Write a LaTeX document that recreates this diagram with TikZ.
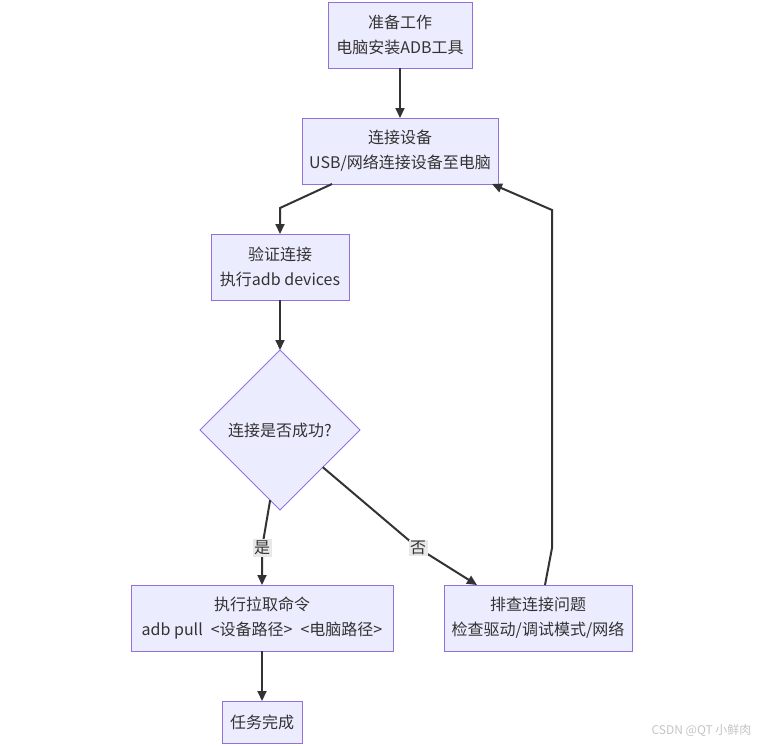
\documentclass[tikz,border=0pt]{standalone}
\usepackage{fontspec}
\setmainfont{Noto Sans CJK SC}
\usetikzlibrary{arrows.meta,positioning,shapes.geometric}
\definecolor{boxfill}{HTML}{ECECFF}
\definecolor{boxline}{HTML}{9370DB}
\definecolor{edgegray}{HTML}{333333}
\definecolor{lblfill}{HTML}{E8E8E8}
\definecolor{markgray}{HTML}{C4C4C4}
\begin{document}
\begin{tikzpicture}[>={Triangle[length=10pt,width=9pt]},node distance=50pt,
    every node/.style={font=\fontsize{16pt}{25pt}\selectfont,text=edgegray},
    block/.style={draw=boxline,fill=boxfill,line width=1pt,align=center,inner sep=0pt,outer sep=0pt,minimum height=66pt},
    decision/.style={diamond,draw=boxline,fill=boxfill,line width=1pt,inner sep=0pt,outer sep=0pt,minimum width=160pt,minimum height=160pt},
    flow/.style={->,draw=edgegray,line width=2pt},
    lbl/.style={fill=lblfill,inner sep=1.5pt}]

                \useasboundingbox (0,0) rectangle (760pt,-745pt);

                \node[block,minimum width=144pt] (prep) at (400pt,-35pt) {准备工作\\电脑安装ADB工具};

                \node[block,minimum width=196pt] (conn) [below=of prep] {连接设备\\USB/网络连接设备至电脑};

                \node[block,minimum width=138pt] (verify) [below=of conn,xshift=-120pt] {验证连接\\执行adb devices};

                \node[decision] (check) [below=of verify] {连接是否成功?};

                \node[block,minimum width=262pt] (pull) [below=75pt of check,xshift=-18pt] {执行拉取命令\\adb pull\enspace<设备路径>\enspace<电脑路径>};

                \node[block,minimum width=80pt,minimum height=42pt] (done) [below=of pull] {任务完成};

                \node[block,minimum width=188pt] (fix) [right=51pt of pull] {排查连接问题\\检查驱动/调试模式/网络};

                \coordinate (back) at ([xshift=54pt,yshift=-26pt]conn.south east);

                \draw[flow] (prep) -- (conn);
                \draw[flow] ([xshift=30pt]conn.south west) -- ([yshift=26pt]verify.north) -- (verify.north);
                \draw[flow] (verify) -- (check);
                \draw[flow] (check.-98) -- ([yshift=37pt]pull.north) node[lbl] {是} -- (pull.north);
                \draw[flow] (check.-41) -- ([xshift=-26pt,yshift=37pt]fix.north west) node[lbl] {否} -- ([xshift=33pt]fix.north west);
                \draw[flow] (pull) -- (done);
                \draw[flow] ([xshift=7pt]fix.north) -- ++(7pt,37pt) -- (back) -- ([xshift=-6pt]conn.south east);

                \node[font=\fontsize{12pt}{12pt}\selectfont,text=markgray,anchor=east] (mark) at (755pt,-731pt) {CSDN @QT 小鲜肉};

            \end{tikzpicture}
\end{document}
